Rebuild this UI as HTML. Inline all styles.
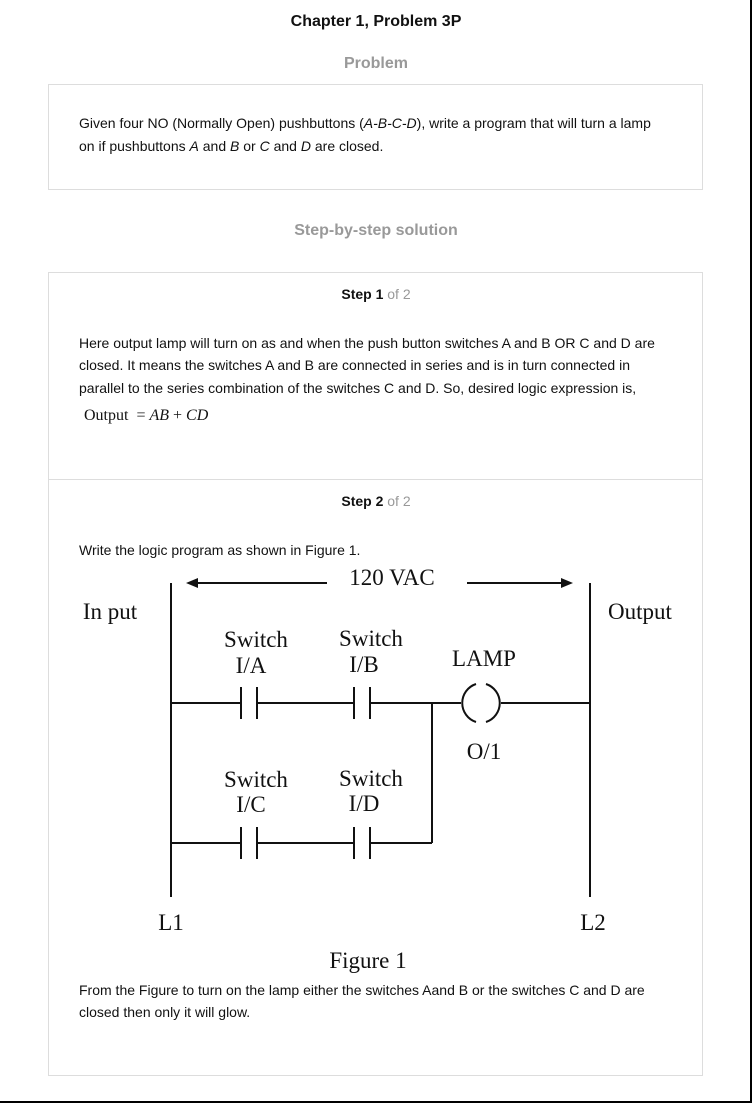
<!DOCTYPE html>
<html><head><meta charset="utf-8"><style>
body{margin:0;width:752px;height:1103px;position:relative;background:#fff;font-family:"Liberation Sans",Arial,sans-serif;color:#111;overflow:hidden}
.a{position:absolute;white-space:nowrap}
.c{left:0;width:752px;text-align:center}
.box{position:absolute;border:1px solid #ddd;box-sizing:border-box}
.t{font-size:14px;left:79px}
.g{color:#999}
</style></head><body>
<div style="position:absolute;left:0;top:0;width:750px;height:1101px;border-right:2px solid #000;border-bottom:2px solid #000"></div>
<div class="a c" style="top:13px;font-size:16px;font-weight:bold">Chapter 1, Problem 3P</div>
<div class="a c g" style="top:55px;font-size:16px;font-weight:bold">Problem</div>
<div class="box" style="left:48px;top:84px;width:655px;height:106px"></div>
<div class="a t" style="top:115px">Given four NO (Normally Open) pushbuttons (<i>A-B-C-D</i>), write a program that will turn a lamp</div>
<div class="a t" style="top:138px">on if pushbuttons <i>A</i> and <i>B</i> or <i>C</i> and <i>D</i> are closed.</div>
<div class="a c g" style="top:222px;font-size:16px;font-weight:bold">Step-by-step solution</div>
<div class="box" style="left:48px;top:272px;width:655px;height:804px"></div>
<div style="position:absolute;left:49px;top:479px;width:653px;height:1px;background:#ddd"></div>
<div class="a c" style="top:286px;font-size:14px"><b>Step 1</b> <span class="g">of 2</span></div>
<div class="a t" style="top:335px">Here output lamp will turn on as and when the push button switches A and B OR C and D are</div>
<div class="a t" style="top:357px">closed. It means the switches A and B are connected in series and is in turn connected in</div>
<div class="a t" style="top:380px">parallel to the series combination of the switches C and D. So, desired logic expression is,</div>
<div class="a" style="left:84px;top:407px;font-family:'Liberation Serif',serif;font-size:16px">Output &nbsp;= <i>AB</i> + <i>CD</i></div>
<div class="a c" style="top:493px;font-size:14px"><b>Step 2</b> <span class="g">of 2</span></div>
<div class="a t" style="top:542px">Write the logic program as shown in Figure 1.</div>
<div class="a t" style="top:982px">From the Figure to turn on the lamp either the switches Aand B or the switches C and D are</div>
<div class="a t" style="top:1004px">closed then only it will glow.</div>
<svg style="position:absolute;left:0;top:0" width="752" height="1103">
<g stroke="#111" stroke-width="2" fill="none">
<line x1="171" y1="583" x2="171" y2="897"/>
<line x1="590" y1="583" x2="590" y2="897"/>
<line x1="195" y1="583" x2="327" y2="583"/>
<line x1="467" y1="583" x2="564" y2="583"/>
<line x1="171" y1="703" x2="241" y2="703"/>
<line x1="257" y1="703" x2="354" y2="703"/>
<line x1="370" y1="703" x2="461" y2="703"/>
<line x1="501" y1="703" x2="590" y2="703"/>
<line x1="171" y1="843" x2="241" y2="843"/>
<line x1="257" y1="843" x2="354" y2="843"/>
<line x1="370" y1="843" x2="432" y2="843"/>
<line x1="432" y1="703" x2="432" y2="843"/>
<line x1="241" y1="687" x2="241" y2="719"/><line x1="257" y1="687" x2="257" y2="719"/>
<line x1="354" y1="687" x2="354" y2="719"/><line x1="370" y1="687" x2="370" y2="719"/>
<line x1="241" y1="827" x2="241" y2="859"/><line x1="257" y1="827" x2="257" y2="859"/>
<line x1="354" y1="827" x2="354" y2="859"/><line x1="370" y1="827" x2="370" y2="859"/>
<path d="M476 684 A20 20 0 0 0 476 722"/>
<path d="M486 684 A20 20 0 0 1 486 722"/>
</g>
<polygon points="186,583 198,578 198,588" fill="#111"/>
<polygon points="573,583 561,578 561,588" fill="#111"/>
<g font-family="Liberation Serif,serif" font-size="23" fill="#111" text-anchor="middle">
<text x="392" y="585">120 VAC</text>
<text x="110" y="619">In put</text>
<text x="640" y="619">Output</text>
<text x="256" y="647">Switch</text><text x="251" y="673">I/A</text>
<text x="371" y="646">Switch</text><text x="364" y="672">I/B</text>
<text x="484" y="666">LAMP</text>
<text x="484" y="759">O/1</text>
<text x="256" y="787">Switch</text><text x="251" y="812">I/C</text>
<text x="371" y="786">Switch</text><text x="364" y="811">I/D</text>
<text x="171" y="930">L1</text>
<text x="593" y="930">L2</text>
<text x="368" y="968">Figure 1</text>
</g>
</svg>
</body></html>
